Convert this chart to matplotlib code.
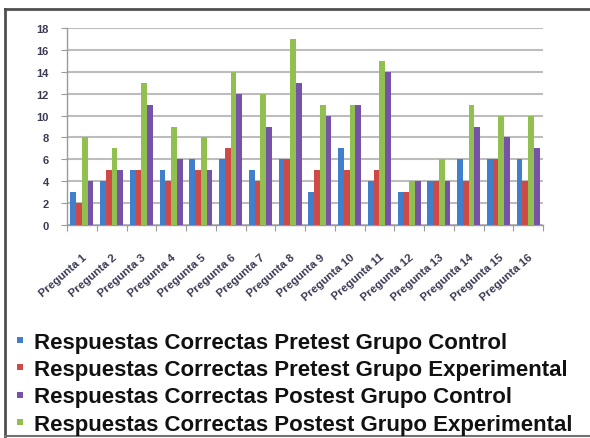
import matplotlib
matplotlib.use("Agg")
import matplotlib.pyplot as plt
import numpy as np
from matplotlib.lines import Line2D

categories = [f"Pregunta {i}" for i in range(1, 17)]
pre_control = [3, 4, 5, 5, 6, 6, 5, 6, 3, 7, 4, 3, 4, 6, 6, 6]
pre_experimental = [2, 5, 5, 4, 5, 7, 4, 6, 5, 5, 5, 3, 4, 4, 6, 4]
post_experimental = [8, 7, 13, 9, 8, 14, 12, 17, 11, 11, 15, 4, 6, 11, 10, 10]
post_control = [4, 5, 11, 6, 5, 12, 9, 13, 10, 11, 14, 4, 4, 9, 8, 7]
yticks = list(range(0, 19, 2))

labels = {
    "pc": "Respuestas Correctas Pretest Grupo Control",
    "pe": "Respuestas Correctas Pretest Grupo Experimental",
    "poc": "Respuestas Correctas Postest Grupo Control",
    "poe": "Respuestas Correctas Postest Grupo Experimental",
}
colors = {"pc": "#3F7FCB", "pe": "#CF4A47", "poc": "#7652A8", "poe": "#92C050"}

W, H = 590, 439
fig = plt.figure(figsize=(W / 100, H / 100), dpi=100)
ax = fig.add_axes([67 / W, 1 - 226 / H, (543 - 67) / W, (226 - 29) / H])

x = np.arange(len(categories))
bw = 0.195
order = [("pc", pre_control), ("pe", pre_experimental), ("poe", post_experimental), ("poc", post_control)]
for i, (k, vals) in enumerate(order):
    ax.bar(x + (i - 1.5) * bw, vals, width=bw, color=colors[k], edgecolor="none", zorder=3)

ax.set_xlim(-0.5, len(categories) - 0.5)
ax.set_ylim(0, 18)
ax.set_yticks(yticks)
ax.set_yticklabels([str(t) for t in yticks], fontsize=8, color="#3a3a55",
                   family="Liberation Sans", weight="bold")
ax.yaxis.grid(True, color="#bdbdbd", linewidth=1.5, zorder=0)
ax.set_xticks(np.arange(-0.5, len(categories), 1.0))
ax.set_xticklabels([])
ax.set_xticks(x, minor=True)
ax.set_xticklabels(categories, minor=True, rotation=41, ha="right", rotation_mode="anchor",
                   fontsize=8.2, color="#3a3a55", family="Liberation Sans", weight="bold")
ax.tick_params(axis="x", which="minor", length=0, pad=19)
ax.tick_params(axis="x", which="major", length=4, color="#9a9a9a", direction="out")
ax.tick_params(axis="y", length=4, color="#9a9a9a", pad=9)
for s in ["top", "right"]:
    ax.spines[s].set_visible(False)
for s in ["left", "bottom"]:
    ax.spines[s].set_color("#9a9a9a")
    ax.spines[s].set_linewidth(1.0)

handles = [Line2D([], [], marker="s", linestyle="none", markersize=4,
                  color=colors[k], markeredgewidth=0) for k in ["pc", "pe", "poc", "poe"]]
leg = fig.legend(handles, [labels[k] for k in ["pc", "pe", "poc", "poe"]],
                 loc="upper left", bbox_to_anchor=(14.5 / W, 1 - 333 / H),
                 frameon=False, handlelength=0.5, handletextpad=0.4, labelspacing=0.28,
                 borderpad=0, borderaxespad=0,
                 prop={"family": "Liberation Sans", "size": 16, "weight": "bold"})
for t in leg.get_texts():
    t.set_color("#111111")

# outer frame
fig.add_artist(Line2D([5 / W, 5 / W], [2 / H, 1 - 10 / H], transform=fig.transFigure, color="#505050", lw=2))
fig.add_artist(Line2D([5 / W, 1], [1 - 10 / H, 1 - 10 / H], transform=fig.transFigure, color="#505050", lw=2))
fig.add_artist(Line2D([5 / W, 1], [2 / H, 2 / H], transform=fig.transFigure, color="#707070", lw=1.5))

fig.savefig("out.png", dpi=100)
